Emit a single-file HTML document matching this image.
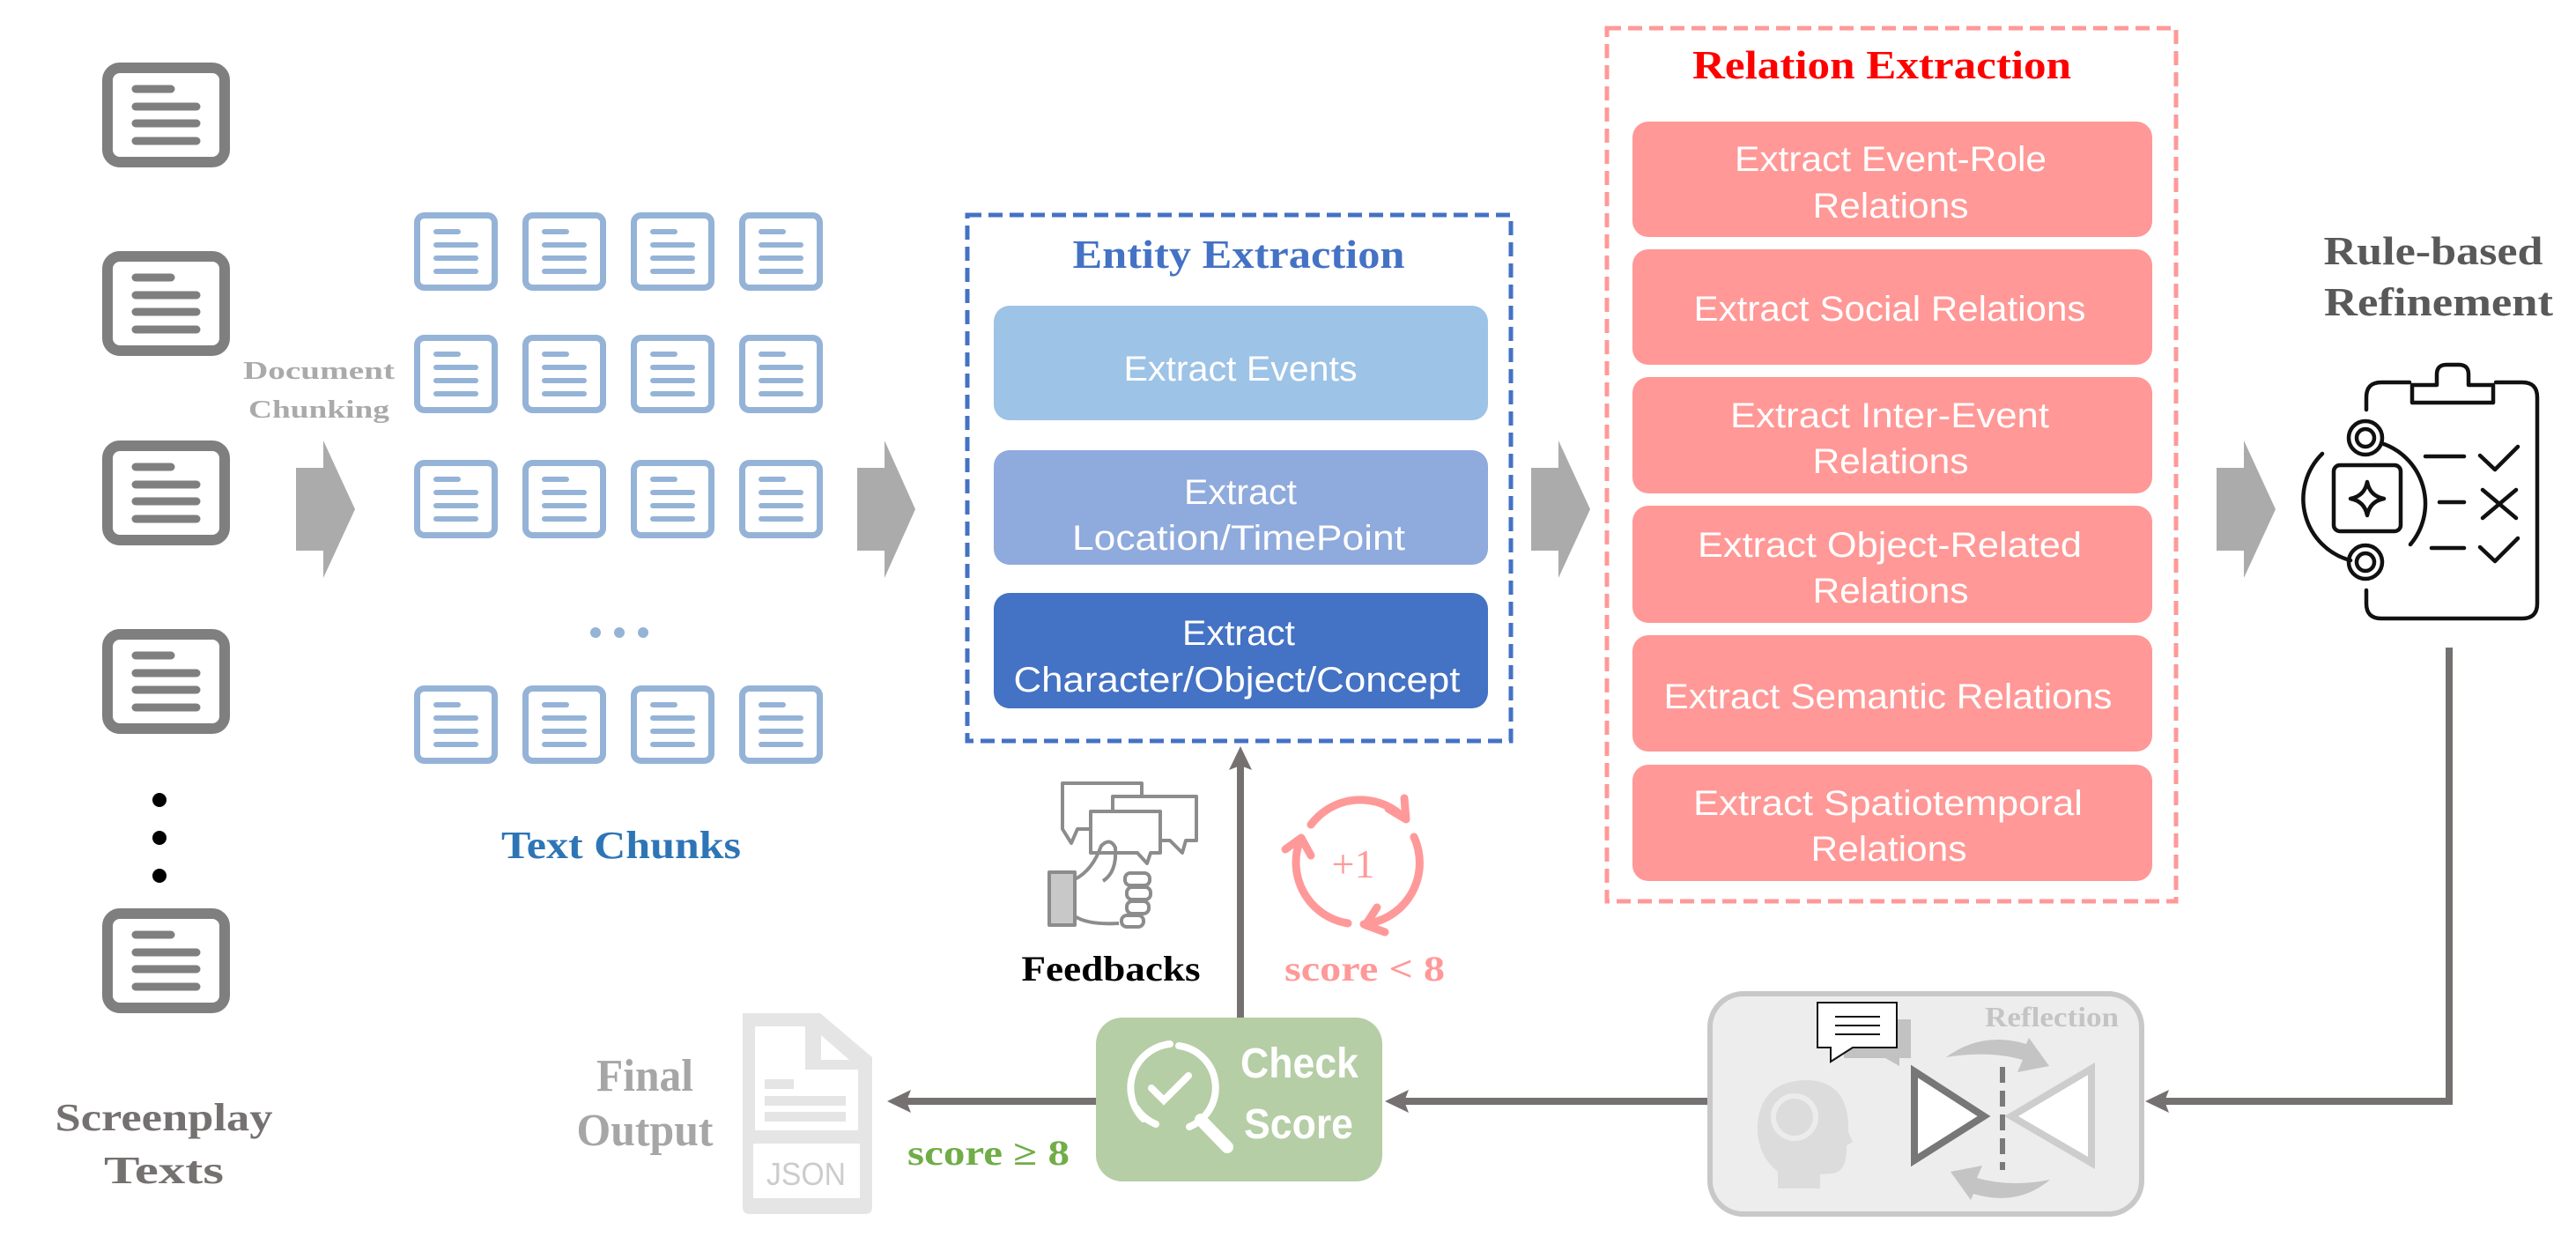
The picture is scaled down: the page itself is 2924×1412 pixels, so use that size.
<!DOCTYPE html>
<html><head><meta charset="utf-8"><style>
html,body{margin:0;padding:0;background:#fff;}
svg{display:block;}
.serif{font-family:"Liberation Serif",serif;font-weight:bold;}
.sans{font-family:"Liberation Sans",sans-serif;}
</style></head><body>
<svg width="2924" height="1412" viewBox="0 0 2924 1412" xmlns="http://www.w3.org/2000/svg">
<defs>
<g id="gdoc">
<rect x="6" y="6" width="133" height="107" rx="14" fill="#fff" stroke="#7f7f7f" stroke-width="12"/>
<g stroke="#7f7f7f" stroke-width="9" stroke-linecap="round">
<line x1="38" y1="30" x2="78" y2="30"/><line x1="38" y1="50" x2="107" y2="50"/><line x1="38" y1="69" x2="107" y2="69"/><line x1="38" y1="89" x2="107" y2="89"/></g>
</g>
<g id="cdoc">
<rect x="3.5" y="3.5" width="88" height="82" rx="8" fill="#fff" stroke="#95b3d7" stroke-width="7"/>
<g stroke="#95b3d7" stroke-width="6" stroke-linecap="round">
<line x1="25" y1="22" x2="50" y2="22"/><line x1="25" y1="37" x2="70" y2="37"/><line x1="25" y1="52" x2="70" y2="52"/><line x1="25" y1="67" x2="70" y2="67"/></g>
</g>
</defs>

<use href="#gdoc" x="116" y="71"/><use href="#gdoc" x="116" y="285"/><use href="#gdoc" x="116" y="500"/><use href="#gdoc" x="116" y="714"/><use href="#gdoc" x="116" y="1031"/>
<circle cx="181" cy="908" r="8" fill="#000"/><circle cx="181" cy="951" r="8" fill="#000"/><circle cx="181" cy="994" r="8" fill="#000"/>
<text class="serif" x="186" y="1283" font-size="44" fill="#767171" text-anchor="middle" textLength="247" lengthAdjust="spacingAndGlyphs">Screenplay</text>
<text class="serif" x="186" y="1343" font-size="44" fill="#767171" text-anchor="middle" textLength="136" lengthAdjust="spacingAndGlyphs">Texts</text>

<text class="serif" x="362" y="430" font-size="28" fill="#aaaaaa" text-anchor="middle" textLength="172" lengthAdjust="spacingAndGlyphs">Document</text>
<text class="serif" x="362" y="474" font-size="28" fill="#aaaaaa" text-anchor="middle" textLength="160" lengthAdjust="spacingAndGlyphs">Chunking</text>

<g fill="#ababab">
<polygon points="336,531 367,531 367,500 403,578 367,656 367,625 336,625"/>
<polygon points="973,531 1004,531 1004,500 1039,578 1004,656 1004,625 973,625"/>
<polygon points="1738,531 1769,531 1769,500 1805,578 1769,656 1769,625 1738,625"/>
<polygon points="2516,531 2547,531 2547,500 2583,578 2547,656 2547,625 2516,625"/>
</g>

<g>
<use href="#cdoc" x="470" y="241"/><use href="#cdoc" x="593" y="241"/><use href="#cdoc" x="716" y="241"/><use href="#cdoc" x="839" y="241"/>
<use href="#cdoc" x="470" y="380"/><use href="#cdoc" x="593" y="380"/><use href="#cdoc" x="716" y="380"/><use href="#cdoc" x="839" y="380"/>
<use href="#cdoc" x="470" y="522"/><use href="#cdoc" x="593" y="522"/><use href="#cdoc" x="716" y="522"/><use href="#cdoc" x="839" y="522"/>
<use href="#cdoc" x="470" y="778"/><use href="#cdoc" x="593" y="778"/><use href="#cdoc" x="716" y="778"/><use href="#cdoc" x="839" y="778"/>
</g>
<circle cx="676" cy="718" r="6" fill="#95b3d7"/><circle cx="703" cy="718" r="6" fill="#95b3d7"/><circle cx="730" cy="718" r="6" fill="#95b3d7"/>
<text class="serif" x="705" y="974" font-size="44" fill="#2e75b6" text-anchor="middle" textLength="272" lengthAdjust="spacingAndGlyphs">Text Chunks</text>

<rect x="1098" y="244" width="617" height="597" fill="none" stroke="#4472c4" stroke-width="5" stroke-dasharray="16 8"/>
<text class="serif" x="1406" y="304" font-size="46" fill="#4472c4" text-anchor="middle" textLength="377" lengthAdjust="spacingAndGlyphs">Entity Extraction</text>
<rect x="1128" y="347" width="561" height="130" rx="18" fill="#9dc3e6"/>
<rect x="1128" y="511" width="561" height="130" rx="18" fill="#8faadc"/>
<rect x="1128" y="673" width="561" height="131" rx="18" fill="#4472c4"/>
<g class="sans" font-size="40" fill="#fff" text-anchor="middle">
<text x="1408" y="432" textLength="265" lengthAdjust="spacingAndGlyphs">Extract Events</text>
<text x="1408" y="572" textLength="128" lengthAdjust="spacingAndGlyphs">Extract</text>
<text x="1406" y="624" textLength="378" lengthAdjust="spacingAndGlyphs">Location/TimePoint</text>
<text x="1406" y="732" textLength="128" lengthAdjust="spacingAndGlyphs">Extract</text>
<text x="1404" y="785" textLength="507" lengthAdjust="spacingAndGlyphs">Character/Object/Concept</text>
</g>

<rect x="1824" y="32" width="646" height="991" fill="none" stroke="#ff9999" stroke-width="5" stroke-dasharray="16 8"/>
<text class="serif" x="2136" y="89" font-size="46" fill="#ff0000" text-anchor="middle" textLength="430" lengthAdjust="spacingAndGlyphs">Relation Extraction</text>
<g fill="#ff9896">
<rect x="1853" y="138" width="590" height="131" rx="18"/>
<rect x="1853" y="283" width="590" height="131" rx="18"/>
<rect x="1853" y="428" width="590" height="132" rx="18"/>
<rect x="1853" y="574" width="590" height="133" rx="18"/>
<rect x="1853" y="721" width="590" height="132" rx="18"/>
<rect x="1853" y="868" width="590" height="132" rx="18"/>
</g>
<g class="sans" font-size="40" fill="#fff" text-anchor="middle">
<text x="2146" y="194" textLength="354" lengthAdjust="spacingAndGlyphs">Extract Event-Role</text>
<text x="2146" y="247" textLength="177" lengthAdjust="spacingAndGlyphs">Relations</text>
<text x="2145" y="364" textLength="445" lengthAdjust="spacingAndGlyphs">Extract Social Relations</text>
<text x="2145" y="485" textLength="362" lengthAdjust="spacingAndGlyphs">Extract Inter-Event</text>
<text x="2146" y="537" textLength="177" lengthAdjust="spacingAndGlyphs">Relations</text>
<text x="2145" y="632" textLength="436" lengthAdjust="spacingAndGlyphs">Extract Object-Related</text>
<text x="2146" y="684" textLength="177" lengthAdjust="spacingAndGlyphs">Relations</text>
<text x="2143" y="804" textLength="509" lengthAdjust="spacingAndGlyphs">Extract Semantic Relations</text>
<text x="2143" y="925" textLength="442" lengthAdjust="spacingAndGlyphs">Extract Spatiotemporal</text>
<text x="2144" y="977" textLength="177" lengthAdjust="spacingAndGlyphs">Relations</text>
</g>

<text class="serif" x="2762" y="300" font-size="46" fill="#595959" text-anchor="middle" textLength="249" lengthAdjust="spacingAndGlyphs">Rule-based</text>
<text class="serif" x="2768" y="358" font-size="46" fill="#595959" text-anchor="middle" textLength="260" lengthAdjust="spacingAndGlyphs">Refinement</text>
<g fill="none" stroke="#111" stroke-width="4.5" stroke-linecap="round" stroke-linejoin="round">
<path d="M2735,434 L2703,434 Q2686,434 2686,451 L2686,465"/>
<path d="M2833,434 L2863,434 Q2880,434 2880,451 L2880,685 Q2880,702 2863,702 L2703,702 Q2686,702 2686,685 L2686,670"/>
<path d="M2738,457 L2738,437 L2766,437 L2766,425 Q2766,414 2777,414 L2791,414 Q2802,414 2802,425 L2802,437 L2830,437 L2830,457 Z"/>
<circle cx="2685" cy="497" r="19"/><circle cx="2685" cy="497" r="10"/>
<circle cx="2685" cy="638" r="19"/><circle cx="2685" cy="638" r="10"/>
<path d="M2703,503 A72,72 0 0 1 2736,618"/>
<path d="M2636,515 A72,72 0 0 0 2668,636"/>
<rect x="2649" y="528" width="76" height="75" rx="7"/>
<path d="M2687,547 Q2690,563 2706,566 Q2690,569 2687,585 Q2684,569 2668,566 Q2684,563 2687,547 Z"/>
<line x1="2753" y1="518" x2="2797" y2="518"/><line x1="2769" y1="570" x2="2797" y2="570"/><line x1="2760" y1="622" x2="2797" y2="622"/>
<path d="M2815,517 L2832,533 L2858,507"/>
<path d="M2818,556 L2856,588 M2856,556 L2818,588"/>
<path d="M2815,621 L2832,637 L2858,611"/>
</g>

<g stroke="#767171" stroke-width="8" fill="none">
<polyline points="2780,735 2780,1250 2455,1250"/>
<line x1="1938" y1="1250" x2="1592" y2="1250"/>
<line x1="1244" y1="1250" x2="1027" y2="1250"/>
<line x1="1408" y1="1155" x2="1408" y2="868"/>
</g>
<g fill="#767171">
<polygon points="2435,1250 2462,1237 2457,1250 2462,1263"/>
<polygon points="1572,1250 1599,1237 1594,1250 1599,1263"/>
<polygon points="1007,1250 1034,1237 1029,1250 1034,1263"/>
<polygon points="1408,847 1395,874 1408,869 1421,874"/>
</g>

<rect x="1941" y="1128" width="490" height="250" rx="38" fill="#ededed" stroke="#c8c8c8" stroke-width="6"/>
<text class="serif" x="2329" y="1165" font-size="32" fill="#c4c4c4" text-anchor="middle" textLength="152" lengthAdjust="spacingAndGlyphs">Reflection</text>
<path d="M2093,1157 L2169,1157 L2169,1201 L2156,1201 L2156,1210 L2140,1201 L2093,1201 Z" fill="#c2c2c2"/>
<path d="M2063,1138 L2153,1138 L2153,1189 L2103,1189 L2078,1205 L2078,1189 L2063,1189 Z" fill="#fff" stroke="#111" stroke-width="2"/>
<g stroke="#111" stroke-width="2"><line x1="2083" y1="1154" x2="2134" y2="1154"/><line x1="2083" y1="1164" x2="2134" y2="1164"/><line x1="2083" y1="1174" x2="2134" y2="1174"/></g>
<path d="M2052,1226 Q2100,1228 2098,1285 L2103,1296 L2096,1300 Q2097,1330 2080,1332 L2066,1333 L2066,1349 L2018,1349 L2018,1330 Q1993,1310 1995,1275 Q2000,1226 2052,1226 Z" fill="#dcdcdc"/>
<circle cx="2037" cy="1268" r="24" fill="none" stroke="#ececec" stroke-width="6"/>
<path d="M2209,1200 Q2250,1170 2300,1185 L2303,1178 L2326,1210 L2290,1217 L2296,1203 Q2258,1192 2209,1200 Z" fill="#c4c4c4"/>
<path d="M2327,1339 Q2290,1370 2240,1355 L2237,1362 L2214,1330 L2250,1323 L2244,1337 Q2282,1348 2327,1339 Z" fill="#c4c4c4"/>
<polygon points="2173,1216 2173,1317 2252,1267" fill="#fff" stroke="#777" stroke-width="8"/>
<polygon points="2374,1213 2374,1320 2283,1267" fill="#fff" stroke="#cdcdcd" stroke-width="8"/>
<line x1="2273" y1="1211" x2="2273" y2="1328" stroke="#7a7a7a" stroke-width="6" stroke-dasharray="18 9"/>

<rect x="1244" y="1155" width="325" height="186" rx="30" fill="#b5cea5"/>
<g fill="none" stroke="#fff" stroke-linecap="round">
<path d="M1298,1270 A50,50 0 0 1 1328,1185" stroke-width="8"/>
<path d="M1338,1187 A48,48 0 0 1 1350,1279" stroke-width="8"/>
<path d="M1312,1276 A50,50 0 0 1 1290,1258" stroke-width="8"/>
<line x1="1363" y1="1271" x2="1393" y2="1302" stroke-width="14"/>
<path d="M1307,1235 L1321,1249 L1349,1221" stroke-width="8"/>
</g>
<text class="sans" x="1475" y="1223" font-size="48" font-weight="bold" fill="#fff" text-anchor="middle" textLength="134" lengthAdjust="spacingAndGlyphs">Check</text>
<text class="sans" x="1474" y="1292" font-size="48" font-weight="bold" fill="#fff" text-anchor="middle" textLength="124" lengthAdjust="spacingAndGlyphs">Score</text>

<g fill="none" stroke="#8c8c8c" stroke-width="4" stroke-linejoin="round">
<path d="M1206,889 L1296,889 L1296,941 L1223,941 L1216,957 L1206,941 Z" fill="#fff"/>
<path d="M1263,904 L1358,904 L1358,954 L1346,954 L1342,968 L1328,954 L1263,954 Z" fill="#fff"/>
<path d="M1238,921 L1317,921 L1317,968 L1306,968 L1302,980 L1291,968 L1238,968 Z" fill="#fff"/>
<rect x="1191" y="990" width="29" height="60" fill="#c8c8c8"/>
<path d="M1220,998 Q1240,988 1250,960 Q1260,950 1266,962 Q1268,990 1252,1000"/>
<rect x="1277" y="991" width="28" height="14" rx="6"/><rect x="1279" y="1007" width="27" height="14" rx="6"/>
<rect x="1279" y="1023" width="25" height="14" rx="6"/><rect x="1273" y="1039" width="25" height="13" rx="6"/>
<path d="M1220,1040 Q1235,1050 1270,1048"/>
</g>
<text class="serif" x="1261" y="1113" font-size="40" fill="#000" text-anchor="middle" textLength="203" lengthAdjust="spacingAndGlyphs">Feedbacks</text>

<g fill="none" stroke="#ff9999" stroke-width="9" stroke-linecap="round" stroke-linejoin="round">
<path d="M1488,936 A70,70 0 0 1 1590,925"/>
<path d="M1576,918 L1596,930 L1594,906"/>
<path d="M1605,950 A70,70 0 0 1 1548,1049"/>
<path d="M1572,1058 L1550,1050 L1563,1030"/>
<path d="M1530,1048 A70,70 0 0 1 1476,953"/>
<path d="M1459,964 L1477,951 L1488,971"/>
</g>
<text x="1536" y="996" font-size="46" font-family="Liberation Serif, serif" fill="#ff9999" text-anchor="middle">+1</text>
<text class="serif" x="1549" y="1113" font-size="40" fill="#ff9999" text-anchor="middle" textLength="182" lengthAdjust="spacingAndGlyphs">score &lt; 8</text>

<text class="serif" x="732" y="1238" font-size="52" fill="#a6a6a6" text-anchor="middle" textLength="110" lengthAdjust="spacingAndGlyphs">Final</text>
<text class="serif" x="732" y="1300" font-size="52" fill="#a6a6a6" text-anchor="middle" textLength="155" lengthAdjust="spacingAndGlyphs">Output</text>
<path d="M843,1150 L931,1150 L990,1200 L990,1370 Q990,1378 982,1378 L851,1378 Q843,1378 843,1370 Z" fill="#e5e5e5"/>
<path d="M857,1165 L914,1165 L914,1214 L974,1214 L974,1283 L857,1283 Z" fill="#fff"/>
<path d="M932,1175 L964,1203 L932,1203 Z" fill="#fff"/>
<rect x="868" y="1225" width="33" height="11" fill="#e5e5e5"/>
<rect x="868" y="1244" width="92" height="11" fill="#e5e5e5"/>
<rect x="868" y="1262" width="92" height="11" fill="#e5e5e5"/>
<rect x="855" y="1298" width="121" height="62" fill="#fff"/>
<text class="sans" x="915" y="1345" font-size="36" fill="#cccccc" text-anchor="middle" textLength="90" lengthAdjust="spacingAndGlyphs">JSON</text>
<text class="serif" x="1122" y="1322" font-size="40" fill="#70ad47" text-anchor="middle" textLength="184" lengthAdjust="spacingAndGlyphs">score ≥ 8</text>
</svg>
</body></html>
